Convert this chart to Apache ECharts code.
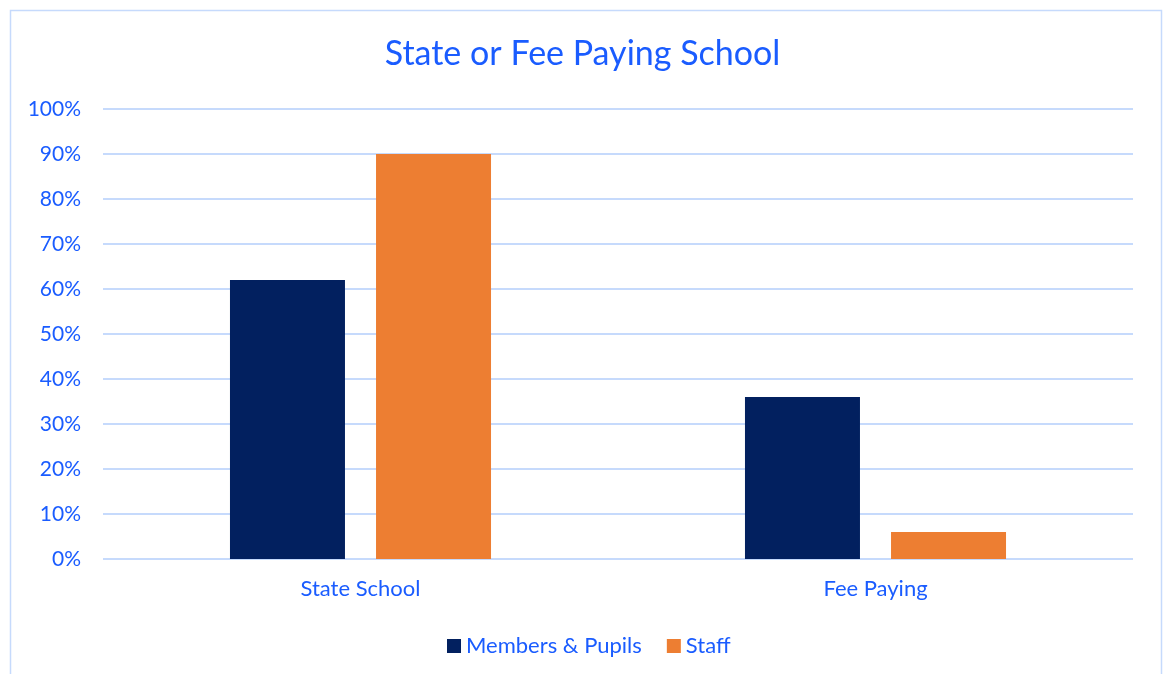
<!DOCTYPE html>
<html>
<head>
<meta charset="utf-8">
<script src="https://cdn.jsdelivr.net/npm/echarts@6/dist/echarts.min.js"></script>
<style>
  html, body { margin: 0; padding: 0; background: #fff; }
  #main { width: 1165px; height: 674px; }
</style>
</head>
<body>
<div id="main"></div>
<script>
// data
var categories = ['State School', 'Fee Paying'];
var seriesNames = ['Members & Pupils', 'Staff'];
var membersPupils = [62, 36];
var staff = [90, 6];
var yTicks = [0, 10, 20, 30, 40, 50, 60, 70, 80, 90, 100];

var textBlue = '#1a5cff';
var fontName = 'Lato';

var myChart = echarts.init(document.getElementById('main'));
myChart.setOption({
    animation: false,
    textStyle: { fontFamily: fontName },
    title: {
        text: 'State or Fee Paying School',
        left: 'center',
        top: 32,
        textStyle: { color: textBlue, fontSize: 34, fontWeight: 'normal', fontFamily: fontName }
    },
    graphic: [{
        type: 'rect',
        shape: { x: 10.5, y: 10.5, width: 1151, height: 700 },
        style: { fill: 'none', stroke: '#c6dafc', lineWidth: 1.5 },
        silent: true
    }],
    legend: {
        data: seriesNames,
        left: 442,
        top: 630,
        icon: 'rect',
        itemWidth: 14,
        itemHeight: 14,
        itemGap: 25,
        textStyle: { color: textBlue, fontSize: 22, fontFamily: fontName }
    },
    grid: { left: 103, right: 32, top: 109, bottom: 115 },
    xAxis: {
        type: 'category',
        data: categories,
        axisLine: { show: false },
        axisTick: { show: false },
        axisLabel: { color: textBlue, fontSize: 22, margin: 19, fontFamily: fontName }
    },
    yAxis: {
        type: 'value',
        min: yTicks[0],
        max: yTicks[yTicks.length - 1],
        interval: 10,
        axisLine: { show: false },
        axisTick: { show: false },
        axisLabel: { color: textBlue, fontSize: 21, margin: 22, formatter: '{value}%', fontFamily: fontName },
        splitLine: { lineStyle: { color: '#c6dafc', width: 2 } }
    },
    series: [
        {
            name: seriesNames[0],
            type: 'bar',
            barWidth: 115,
            barGap: '27%',
            itemStyle: { color: '#02205f' },
            data: membersPupils
        },
        {
            name: seriesNames[1],
            type: 'bar',
            barWidth: 115,
            barGap: '27%',
            itemStyle: { color: '#ed7e32' },
            data: staff
        }
    ]
});
</script>
</body>
</html>
